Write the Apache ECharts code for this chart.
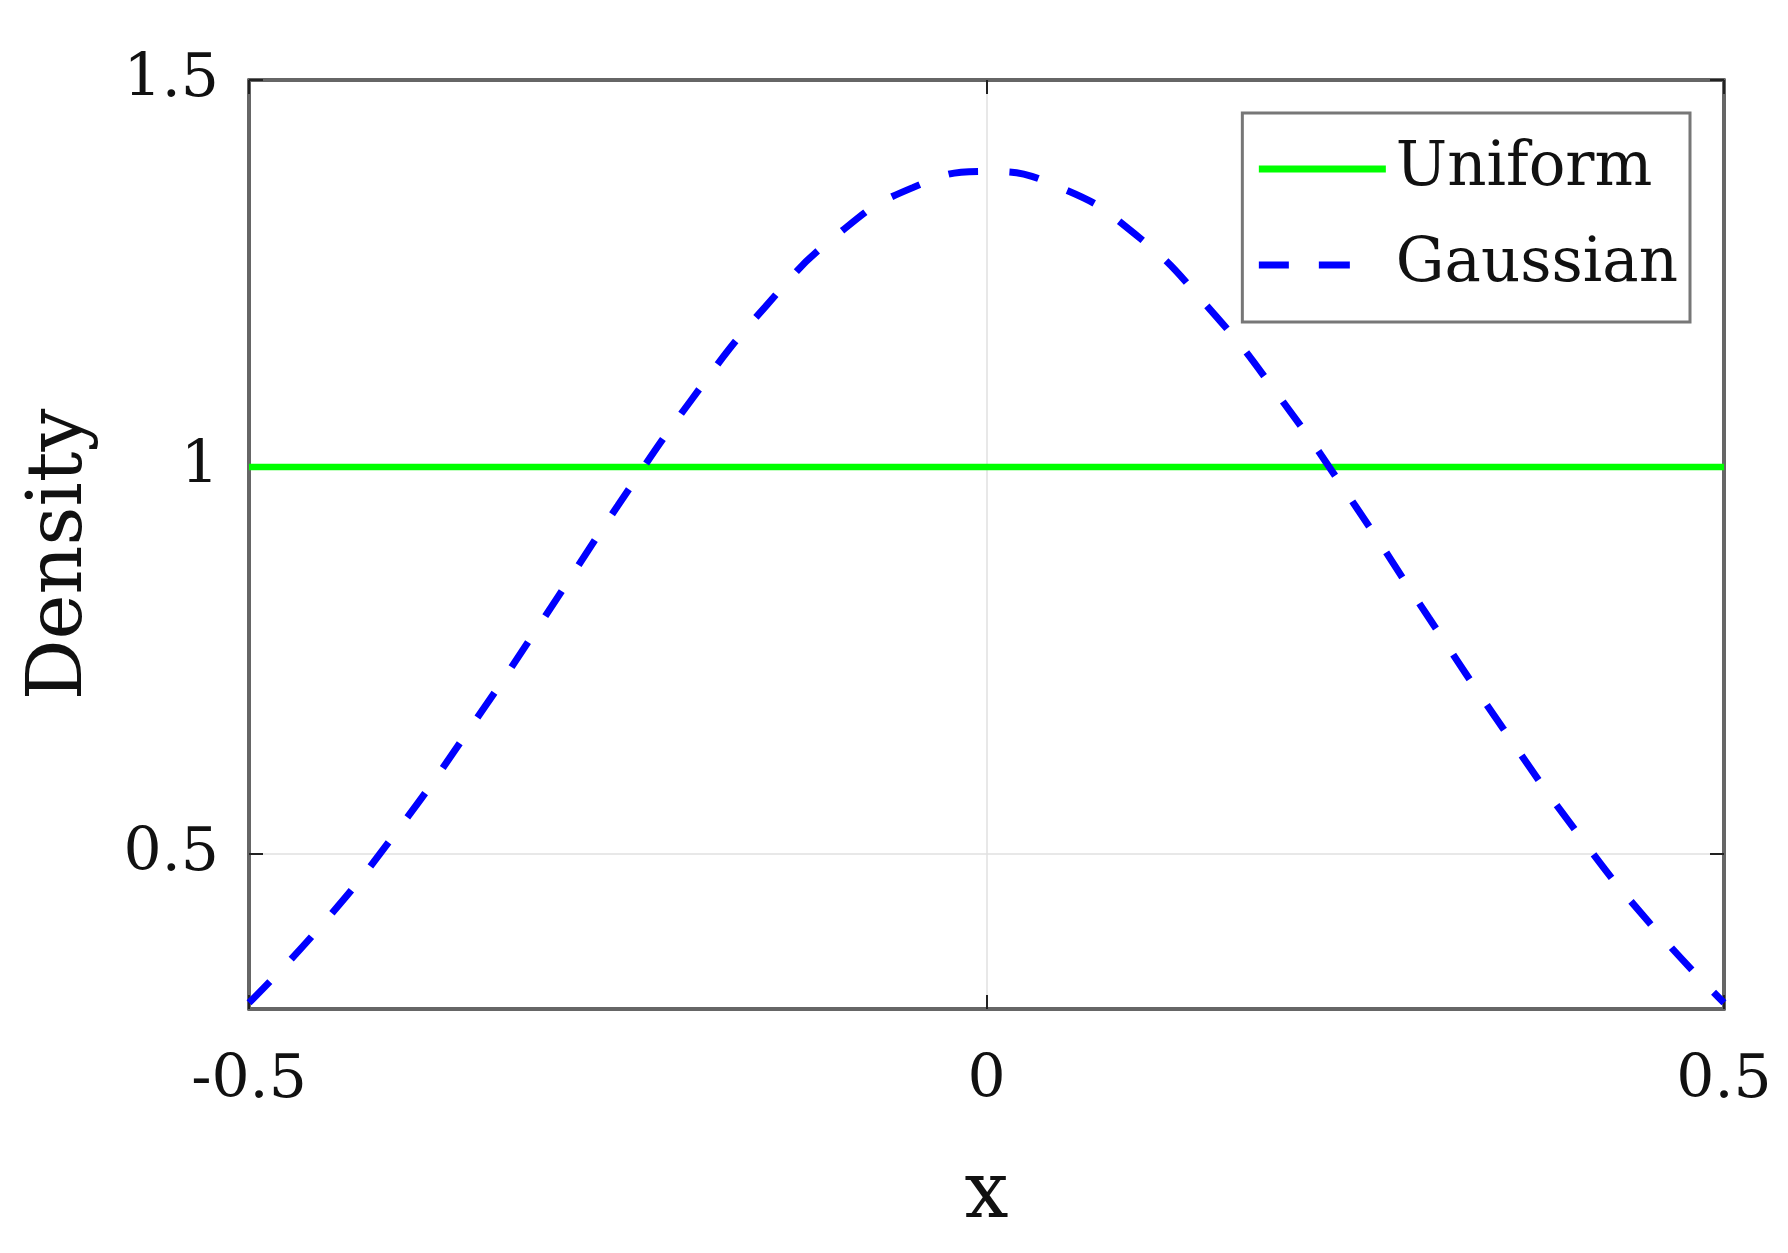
<!DOCTYPE html>
<html>
<head>
<meta charset="utf-8">
<script src="https://cdn.jsdelivr.net/npm/echarts@6/dist/echarts.min.js"></script>
<style>
  html, body { margin: 0; padding: 0; background: #fff; }
  #chart { width: 1788px; height: 1253px; }
</style>
</head>
<body>
<div id="chart"></div>
<script>
// x positions
const xValues = [-0.5, -0.45, -0.4, -0.35, -0.3, -0.25, -0.2, -0.15, -0.1, -0.05,
  0, 0.05, 0.1, 0.15, 0.2, 0.25, 0.3, 0.35, 0.4, 0.45, 0.5];
// Gaussian density
const gaussianValues = [0.308, 0.410, 0.529, 0.663, 0.805, 0.950, 1.087, 1.207, 1.302, 1.361,
  1.382, 1.361, 1.302, 1.207, 1.087, 0.950, 0.805, 0.663, 0.529, 0.410, 0.308];
// Uniform density endpoints
const uniformX = [-0.5, 0.5];
const uniformValues = [1, 1];
// tick labels
const xTicks = [-0.5, 0, 0.5];
const yTicks = [0.5, 1, 1.5];

const font = "DejaVu Serif";
const myChart = echarts.init(document.getElementById("chart"));

const axisLine = { show: true, onZero: false, lineStyle: { color: "#666", width: 4 } };
const tickStyle = { color: "#222", width: 2 };

const option = {
  animation: false,
  backgroundColor: "#fff",
  grid: { left: 249, right: 64, top: 80, bottom: 244 },
  legend: {
    right: 98,
    top: 113,
    orient: "vertical",
    itemWidth: 127,
    itemHeight: 20,
    itemGap: 26,
    padding: [21, 12, 22, 13],
    borderColor: "#777",
    borderWidth: 3,
    backgroundColor: "#fff",
    itemStyle: { opacity: 0 },
    lineStyle: { width: 7 },
    textStyle: {
      fontFamily: font,
      fontSize: 61,
      color: "#111",
      lineHeight: 70,
      padding: [0, 0, 0, 5],
    },
    data: [
      { name: "Uniform" },
      // two dashes only in the key, like the reference
      { name: "Gaussian", lineStyle: { type: [30, 30, 31, 100] } },
    ],
  },
  xAxis: [
    {
      type: "value",
      min: -0.5,
      max: 0.5,
      interval: 0.5,
      name: "x",
      nameLocation: "middle",
      nameGap: 149,
      nameTextStyle: { fontFamily: font, fontSize: 78, color: "#111" },
      axisLine: axisLine,
      axisTick: { show: true, inside: true, length: 14, lineStyle: tickStyle },
      axisLabel: {
        fontFamily: font, fontSize: 60, color: "#111", margin: 42,
        showMinLabel: true, showMaxLabel: true,
        formatter: (v) => (xTicks.includes(v) ? String(v) : ""),
      },
      splitLine: { show: true, lineStyle: { color: "#e0e0e0", width: 1.5 } },
    },
    {
      type: "value",
      position: "top",
      min: -0.5,
      max: 0.5,
      interval: 0.5,
      axisLine: axisLine,
      axisTick: { show: true, inside: true, length: 14, lineStyle: tickStyle },
      axisLabel: { show: false },
      splitLine: { show: false },
    },
  ],
  yAxis: [
    {
      type: "value",
      min: 0.3,
      max: 1.5,
      name: "Density",
      nameLocation: "middle",
      nameGap: 150,
      nameTextStyle: { fontFamily: font, fontSize: 76, color: "#111", padding: [0, 20, 0, 0] },
      axisLine: axisLine,
      axisTick: { show: true, inside: true, length: 14, customValues: yTicks, lineStyle: tickStyle },
      axisLabel: { fontFamily: font, fontSize: 60, color: "#111", margin: 30, customValues: yTicks },
      splitLine: { show: true, lineStyle: { color: "#e0e0e0", width: 1.5 } },
    },
    {
      type: "value",
      position: "right",
      min: 0.3,
      max: 1.5,
      axisLine: axisLine,
      axisTick: { show: true, inside: true, length: 14, customValues: yTicks, lineStyle: tickStyle },
      axisLabel: { show: false },
      splitLine: { show: false },
    },
  ],
  series: [
    {
      name: "Uniform",
      type: "line",
      xAxisIndex: 0,
      yAxisIndex: 0,
      symbol: "none",
      color: "#00ff00",
      lineStyle: { color: "#00ff00", width: 6.5 },
      data: uniformX.map((x, i) => [x, uniformValues[i]]),
      z: 3,
    },
    {
      name: "Gaussian",
      type: "line",
      xAxisIndex: 0,
      yAxisIndex: 0,
      symbol: "none",
      smooth: true,
      color: "#0000ff",
      lineStyle: { color: "#0000ff", width: 7, type: [30, 31] },
      data: xValues.map((x, i) => [x, gaussianValues[i]]),
      z: 4,
    },
  ],
};

myChart.setOption(option);
window.addEventListener("resize", () => {
  myChart.resize();
});
</script>
</body>
</html>
